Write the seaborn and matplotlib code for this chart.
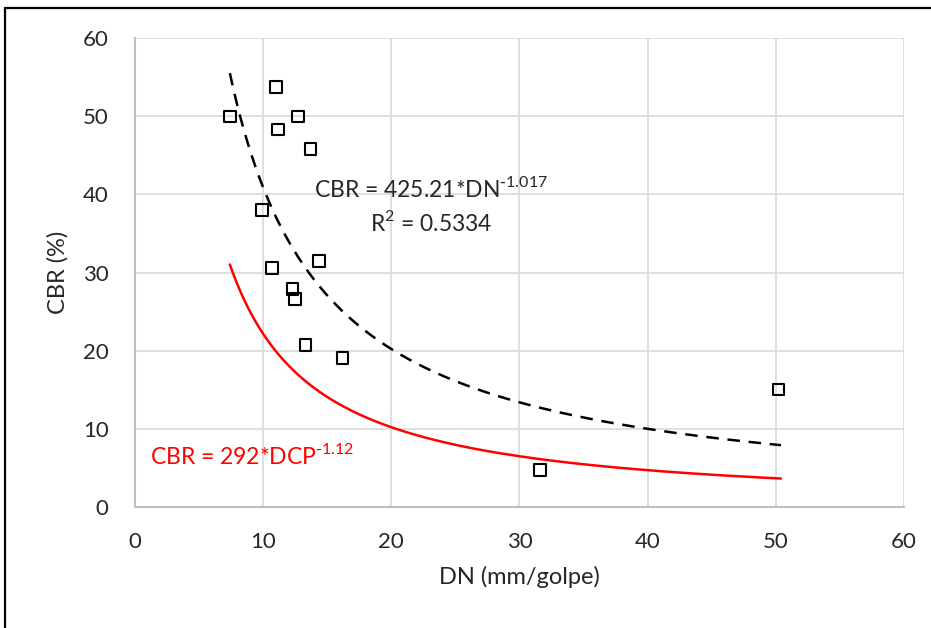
import numpy as np
import pandas as pd
import seaborn as sns
import matplotlib.pyplot as plt
from matplotlib.patches import Rectangle

# Measured points
dn = [7.4, 11.0, 12.7, 11.15, 13.7, 9.9, 10.7, 14.35, 12.3, 12.5, 13.3, 16.2, 31.6, 50.2]
cbr = [50.0, 53.8, 50.0, 48.3, 45.8, 38.0, 30.6, 31.5, 27.9, 26.6, 20.7, 19.05, 4.7, 15.0]

# Trend line (fit) and reference correlation
fit_a, fit_b = 425.21, -1.017
ref_a, ref_b = 292, -1.12
dn_min, dn_max = 7.4, 50.4

data = pd.DataFrame({"dn": dn, "cbr": cbr})
x_curve = np.linspace(dn_min, dn_max, 300)
curves = pd.DataFrame({
    "dn": x_curve,
    "fit": fit_a * x_curve ** fit_b,
    "ref": ref_a * x_curve ** ref_b,
})

sns.set_style("white")
plt.rcParams["font.family"] = ["Lato", "DejaVu Sans"]

fig = plt.figure(figsize=(9.31, 6.28), dpi=100)
ax = fig.add_axes([0.145, 0.193, 0.826, 0.746])

sns.lineplot(data=curves, x="dn", y="fit", ax=ax, color="black", lw=1.8,
             linestyle=(0, (5, 3.5)), zorder=3)
sns.lineplot(data=curves, x="dn", y="ref", ax=ax, color="#ff0000", lw=1.8, zorder=3)
sns.scatterplot(data=data, x="dn", y="cbr", ax=ax, marker="s", s=70,
                facecolor="none", edgecolor="black", linewidth=1.5, zorder=4)

ax.set_xlim(0, 60)
ax.set_ylim(0, 60)
ax.set_xticks(range(0, 61, 10))
ax.set_yticks(range(0, 61, 10))
ax.grid(True, color="#d9d9d9", lw=1.2)
for s in ["top", "right"]:
    ax.spines[s].set_visible(False)
for s in ["left", "bottom"]:
    ax.spines[s].set_color("#bfbfbf")
    ax.spines[s].set_linewidth(1.5)
ax.tick_params(axis="y", length=0, labelsize=16, pad=19)
ax.tick_params(axis="x", length=0, labelsize=16, pad=18)
ax.set_xlabel("DN (mm/golpe)", fontsize=17, labelpad=10)
ax.set_ylabel("CBR (%)", fontsize=17, labelpad=10)

ax.text(23.1, 40.8, r"CBR = 425.21*DN$^{\mathregular{\text{-}1.017}}$", fontsize=16.5,
        ha="center", va="center")
ax.text(23.1, 36.4, r"R$^{\mathregular{2}}$ = 0.5334", fontsize=16.5, ha="center", va="center")
ax.text(1.2, 6.6, r"CBR = 292*DCP$^{\mathregular{\text{-}1.12}}$", fontsize=16.5,
        color="#ff0000", ha="left", va="center")

fig.patches.append(Rectangle((5 / 931, -0.05), 1.2, 1 - 8 / 628 + 0.05,
                             transform=fig.transFigure, fill=False,
                             edgecolor="black", lw=1.6))

fig.savefig("out.png", dpi=100)
